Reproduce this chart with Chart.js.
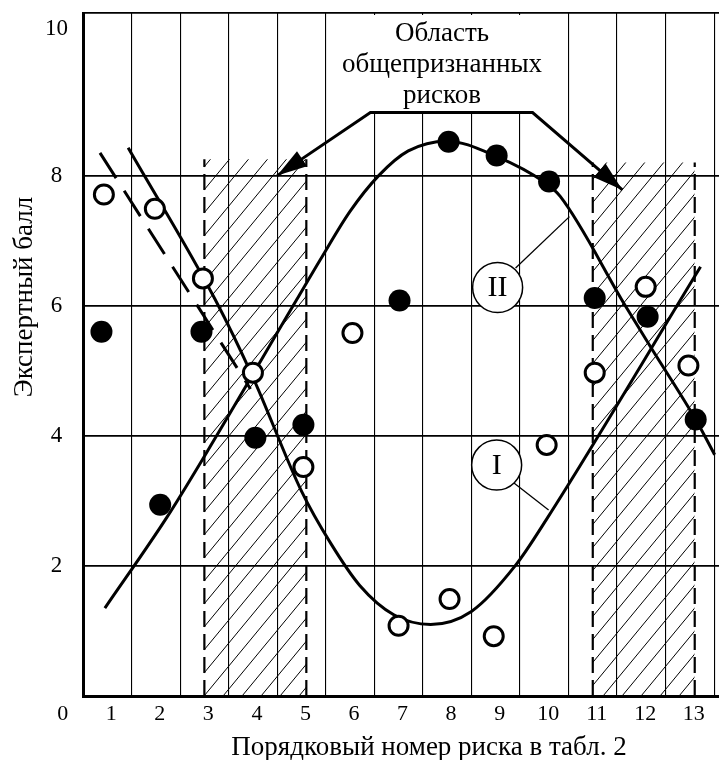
<!DOCTYPE html>
<html>
<head>
<meta charset="utf-8">
<script src="https://cdn.jsdelivr.net/npm/chart.js@4.4.1/dist/chart.umd.min.js"></script>
<style>
html,body{margin:0;padding:0;background:#fff;}
#wrap{width:719px;height:760px;position:relative;}
</style>
</head>
<body>
<div id="wrap"><canvas id="c"></canvas></div>
<script>
// ---------- data ----------
const xTickLabels = ['1','2','3','4','5','6','7','8','9','10','11','12','13'];
const yTickValues = [2, 4, 6, 8];
const yTopLabel = '10';

// series I (open circles)
const openX = [0.93, 1.98, 2.97, 4.0, 5.04, 6.05, 7.0, 8.05, 8.96, 10.05, 11.04, 12.09, 12.97];
const openY = [7.71, 7.49, 6.42, 4.97, 3.52, 5.58, 1.08, 1.49, 0.92, 3.86, 4.97, 6.29, 5.08];

// series II (filled circles)
const filledX = [0.88, 2.09, 2.94, 4.05, 5.04, 7.02, 8.03, 9.02, 10.1, 11.04, 12.13, 13.12];
const filledY = [5.6, 2.94, 5.6, 3.97, 4.17, 6.08, 8.52, 8.31, 7.91, 6.12, 5.83, 4.25];

// curve I (U shape)
const curveIX = [1.43, 3.22, 4.0, 5.0, 5.6, 6.2, 6.9, 7.66, 8.5, 9.4, 10.05, 13.22];
const curveIY = [8.43, 6.1, 4.9, 3.15, 2.35, 1.7, 1.25, 1.1, 1.3, 2.0, 2.72, 6.6];

// curve II (bell shape)
const curveIIX = [0.95, 2.23, 3.02, 4.9, 5.39, 6.0, 6.59, 7.2, 8.0, 9.0, 10.0, 10.33, 11.67, 12.23, 13.12, 13.51];
const curveIIY = [1.35, 2.75, 3.71, 6.09, 6.71, 7.45, 8.0, 8.38, 8.53, 8.3, 7.9, 7.68, 6.0, 5.32, 4.25, 3.71];

// dashed straight line
const dashX = [0.85, 3.95];
const dashY = [8.35, 4.72];

// hatched zones of commonly recognised risks
const zoneFrom = [3.0, 11.0];
const zoneTo = [5.1, 13.1];
const zoneTop = [8.25, 8.2];

// arrow polyline
const arrowX = [4.5, 6.42, 9.76, 11.61];
const arrowY = [8.0, 8.97, 8.97, 7.78];

// curve labels
const romanText = ['II', 'I'];
const romanX = [9.04, 9.02];
const romanY = [6.28, 3.55];
const leaderFromX = [9.41, 9.37];
const leaderFromY = [6.58, 3.28];
const leaderToX = [10.52, 10.09];
const leaderToY = [7.37, 2.86];

const noteLines = ['Область', 'общепризнанных', 'рисков'];
const xTitle = 'Порядковый номер риска в табл. 2';
const yTitle = 'Экспертный балл';

// ---------- helpers ----------
const pts = (xs, ys) => xs.map((v, i) => ({x: v, y: ys[i]}));
const FONT = '"Liberation Serif", "Times New Roman", serif';

function makeHatch() {
  const w = 19, h = 23;
  const tile = document.createElement('canvas');
  tile.width = w; tile.height = h;
  const g = tile.getContext('2d');
  g.strokeStyle = '#000';
  g.lineWidth = 1;
  for (let k = -1; k <= 1; k++) {
    g.beginPath();
    g.moveTo(-w, 2 * h + k * h);
    g.lineTo(2 * w, -h + k * h);
    g.stroke();
  }
  return g.createPattern(tile, 'repeat');
}
const hatch = makeHatch();

const datasets = [];
datasets.push({
  data: pts(romanX, romanY), showLine: false,
  pointRadius: 25, pointBackgroundColor: '#fff', pointBorderColor: '#000', pointBorderWidth: 1.5
});
datasets.push({
  data: pts(filledX, filledY), showLine: false,
  pointRadius: 11, pointBackgroundColor: '#000', pointBorderColor: '#000', pointBorderWidth: 0
});
datasets.push({
  data: pts(openX, openY), showLine: false,
  pointRadius: 9.5, pointBackgroundColor: '#fff', pointBorderColor: '#000', pointBorderWidth: 3
});
datasets.push({
  data: pts(curveIX, curveIY), borderColor: '#000', borderWidth: 3, pointRadius: 0,
  cubicInterpolationMode: 'monotone', fill: false
});
datasets.push({
  data: pts(curveIIX, curveIIY), borderColor: '#000', borderWidth: 3, pointRadius: 0,
  cubicInterpolationMode: 'monotone', fill: false
});
datasets.push({
  data: pts(dashX, dashY), borderColor: '#000', borderWidth: 3, pointRadius: 0,
  borderDash: [30, 15], fill: false
});
leaderFromX.forEach((v, i) => {
  datasets.push({
    data: [{x: v, y: leaderFromY[i]}, {x: leaderToX[i], y: leaderToY[i]}],
    borderColor: '#000', borderWidth: 1.3, pointRadius: 0, fill: false
  });
});
datasets.push({
  data: pts(arrowX, arrowY), borderColor: '#000', borderWidth: 3, pointRadius: 0, fill: false
});
zoneFrom.forEach((v, i) => {
  [v, zoneTo[i]].forEach(xv => {
    datasets.push({
      data: [{x: xv, y: 0}, {x: xv, y: zoneTop[i]}],
      borderColor: '#000', borderWidth: 2.2, borderDash: [16, 7], pointRadius: 0, fill: false
    });
  });
});
zoneFrom.forEach((v, i) => {
  datasets.push({
    data: [{x: v, y: zoneTop[i]}, {x: zoneTo[i], y: zoneTop[i]}],
    borderColor: 'rgba(0,0,0,0)', borderWidth: 0, pointRadius: 0,
    backgroundColor: hatch, fill: 'origin'
  });
});

const deco = {
  id: 'deco',
  beforeDatasetsDraw(chart) {
    const ctx = chart.ctx;
    ctx.save();
    ctx.fillStyle = '#fff';
    ctx.fillRect(333, 15, 233, 97);
    ctx.restore();
  },
  afterDatasetsDraw(chart) {
    const {ctx, chartArea, scales: {x, y}} = chart;
    const px = v => x.getPixelForValue(v), py = v => y.getPixelForValue(v);
    ctx.save();
    ctx.fillStyle = '#000';
    const n = arrowX.length;
    [[0, 1], [n - 1, n - 2]].forEach(([tip, from]) => {
      const tx = px(arrowX[tip]), ty = py(arrowY[tip]);
      const fx = px(arrowX[from]), fy = py(arrowY[from]);
      const a = Math.atan2(ty - fy, tx - fx), L = 30, W = 9;
      const bx = tx - L * Math.cos(a), by = ty - L * Math.sin(a);
      ctx.beginPath();
      ctx.moveTo(tx, ty);
      ctx.lineTo(bx + W * Math.sin(a), by - W * Math.cos(a));
      ctx.lineTo(bx - W * Math.sin(a), by + W * Math.cos(a));
      ctx.closePath();
      ctx.fill();
    });
    ctx.textAlign = 'center';
    ctx.textBaseline = 'middle';
    ctx.font = '30px ' + FONT;
    romanText.forEach((t, i) => ctx.fillText(t, px(romanX[i]), py(romanY[i]) + 1));
    ctx.font = '27px ' + FONT;
    ctx.textBaseline = 'alphabetic';
    noteLines.forEach((t, i) => ctx.fillText(t, 442, 41 + i * 31));
    ctx.font = '22px ' + FONT;
    ctx.textBaseline = 'middle';
    ctx.fillText('0', px(0) + 4, chartArea.bottom + 5 + 13.2);
    ctx.font = '27px ' + FONT;
    ctx.textBaseline = 'alphabetic';
    ctx.fillText(xTitle, 429, 755);
    ctx.translate(32, 297);
    ctx.rotate(-Math.PI / 2);
    ctx.fillText(yTitle, 0, 0);
    ctx.restore();
  }
};

function noPad(s) {
  s.paddingTop = 0; s.paddingBottom = 0; s.paddingLeft = 0; s.paddingRight = 0;
}

new Chart(document.getElementById('c'), {
  type: 'line',
  data: {datasets},
  plugins: [deco],
  options: {
    responsive: true,
    maintainAspectRatio: false,
    animation: false,
    devicePixelRatio: 1,
    layout: {autoPadding: false, padding: {top: 13, left: 0, right: 0, bottom: 0}},
    plugins: {legend: {display: false}, tooltip: {enabled: false}},
    scales: {
      x: {
        type: 'linear', min: 0.5, max: 13.6,
        afterBuildTicks: s => {
          const t = [];
          for (let v = 0.5; v <= 13.5; v += 0.5) t.push({value: v});
          s.ticks = t;
        },
        afterFit: s => { s.height = 64; noPad(s); },
        border: {display: true, color: '#000', width: 3},
        grid: {
          drawTicks: false,
          color: c => (c.tick && Number.isInteger(c.tick.value)) ? 'rgba(0,0,0,0)' : '#000',
          lineWidth: 1.1
        },
        ticks: {
          autoSkip: false, maxRotation: 0, padding: 5, labelOffset: 4,
          color: '#000', font: {family: FONT, size: 22},
          callback: v => Number.isInteger(v) ? xTickLabels[v - 1] : ''
        }
      },
      y: {
        type: 'linear', min: 0, max: 10.5,
        afterBuildTicks: s => {
          s.ticks = yTickValues.concat([10.25, 10.5]).map(v => ({value: v}));
        },
        afterFit: s => { s.width = 83; noPad(s); },
        border: {display: true, color: '#000', width: 3},
        grid: {
          drawTicks: false,
          color: c => (c.tick && c.tick.value === 10.25) ? 'rgba(0,0,0,0)' : '#000',
          lineWidth: 1.8
        },
        ticks: {
          padding: 15, crossAlign: 'center',
          color: '#000', font: {family: FONT, size: 23},
          callback: v => v === 10.25 ? yTopLabel : (v === 10.5 ? '' : String(v))
        }
      }
    }
  }
});
</script>
</body>
</html>
